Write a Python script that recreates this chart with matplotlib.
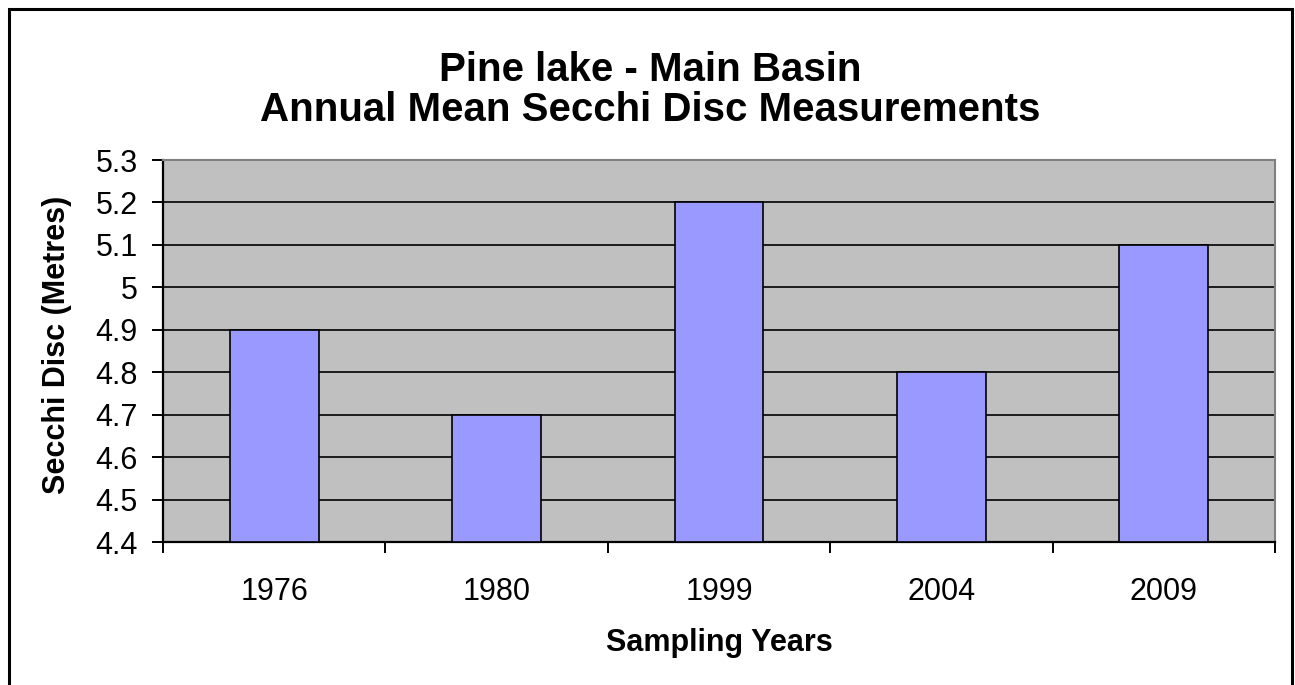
import matplotlib.pyplot as plt
from matplotlib.patches import Rectangle

years = ["1976", "1980", "1999", "2004", "2009"]
secchi = [4.9, 4.7, 5.2, 4.8, 5.1]
yticks = [4.4, 4.5, 4.6, 4.7, 4.8, 4.9, 5.0, 5.1, 5.2, 5.3]
ytick_labels = ["4.4", "4.5", "4.6", "4.7", "4.8", "4.9", "5", "5.1", "5.2", "5.3"]

plt.rcParams["font.family"] = ["Liberation Sans", "DejaVu Sans"]

W, H = 1295, 685
fig = plt.figure(figsize=(W / 100, H / 100), dpi=100)
ax = fig.add_axes([163 / W, 1 - 542 / H, (1275 - 163) / W, (542 - 160) / H])

ax.set_facecolor("#C0C0C0")
x = range(len(years))
ax.bar(x, [v - 4.4 for v in secchi], bottom=4.4, width=0.4,
       color="#9999FF", edgecolor="black", linewidth=1.2, zorder=3)

ax.set_ylim(4.4, 5.3)
ax.set_xlim(-0.5, len(years) - 0.5)
ax.set_yticks(yticks)
ax.set_yticklabels(ytick_labels)
ax.yaxis.grid(True, color="black", linewidth=1.2, zorder=1)
ax.set_axisbelow(True)

# ticks on category boundaries, labels at centres
ax.set_xticks([i - 0.5 for i in range(len(years) + 1)])
ax.set_xticklabels([])
ax.set_xticks(list(x), minor=True)
ax.set_xticklabels(years, minor=True)
ax.tick_params(axis="x", which="major", length=8, width=1.4, direction="out")
ax.tick_params(axis="x", which="minor", length=0, pad=25, labelsize=22)
ax.tick_params(axis="y", length=8, width=1.4, direction="out", pad=10, labelsize=22)

for s in ["left", "bottom"]:
    ax.spines[s].set_color("black")
    ax.spines[s].set_linewidth(1.6)
for s in ["top", "right"]:
    ax.spines[s].set_color("#808080")
    ax.spines[s].set_linewidth(1.5)

ax.set_xlabel("Sampling Years", fontsize=22, fontweight="bold", labelpad=15)
fig.text(57 / W, 1 - 345 / H, "Secchi Disc (Metres)", rotation=90,
         ha="center", va="center", fontsize=22, fontweight="bold")

fig.text(650 / W, 1 - 70 / H, "Pine lake - Main Basin",
         ha="center", va="center", fontsize=29, fontweight="bold")
fig.text(650 / W, 1 - 110 / H, "Annual Mean Secchi Disc Measurements",
         ha="center", va="center", fontsize=29, fontweight="bold")

# chart border
fig.patches.append(Rectangle((9 / W, -0.05), (1292 - 9) / W, 1.05 - 9 / H,
                             transform=fig.transFigure, fill=False,
                             edgecolor="black", linewidth=2.2))

fig.savefig("out.png", dpi=100)
